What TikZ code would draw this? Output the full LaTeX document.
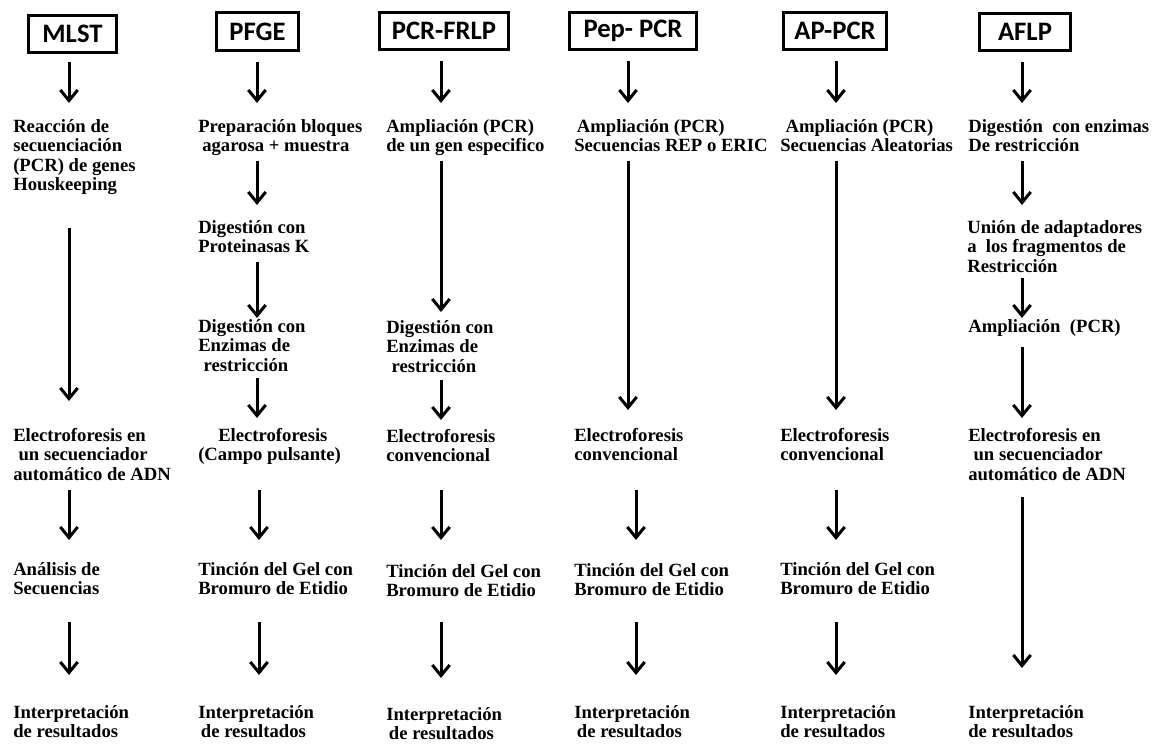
\documentclass[tikz,border=0pt]{standalone}
\usepackage{fontspec}
\setmainfont{Liberation Serif}
\newfontfamily\hdfont{Carlito}
\usetikzlibrary{arrows.meta,calc}
\begin{document}
\begin{tikzpicture}[x=0.75pt,y=-0.75pt,
  hd/.style={draw, line width=2.25pt, inner sep=0pt, minimum height=28pt,
    font=\hdfont\bfseries\fontsize{20}{24}\selectfont},
  txt/.style={anchor=north west, inner sep=0pt, align=left,
    font=\bfseries\fontsize{14}{14.6}\selectfont},
  arr/.style={line width=2.25pt, -{Straight Barb[length=8pt,width=13pt]}}]
\useasboundingbox (0,0) rectangle (1156,744);
% column coordinates
\coordinate (x1) at (69,0);
\coordinate (x2) at (257,0);
\coordinate (x2b) at (259,0);
\coordinate (x3) at (441,0);
\coordinate (x4) at (628,0);
\coordinate (x4b) at (636,0);
\coordinate (x5) at (836,0);
\coordinate (x6) at (1022,0);
% headers
\node[hd, minimum width=66pt] (h1) at (72.5,34) {MLST};
\node[hd, minimum width=62pt] (h2) at (257.5,31.5) {PFGE};
\node[hd, minimum width=97pt] (h3) at (444,31) {PCR-FRLP};
\node[hd, minimum width=95pt] (h4) at (633,31) {Pep- PCR};
\node[hd, minimum width=77pt] (h5) at (835,31) {AP-PCR};
\node[hd, minimum width=68pt] (h6) at (1025,32) {AFLP};
% MLST
\node[txt] (m1) at (13,119) {Reacción de\\secuenciación\\(PCR) de genes\\Houskeeping};
\node[txt] (m2) at (13,428) {Electroforesis en\\\hspace*{4pt}un secuenciador\\automático de ADN};
\node[txt] (m3) at (13,562) {Análisis de\\Secuencias};
\node[txt] (m4) at (13,705) {Interpretación\\de resultados};
% PFGE
\node[txt] (p1) at (198,119) {Preparación bloques\\\hspace*{3pt}agarosa + muestra};
\node[txt] (p2) at (198,220) {Digestión con\\Proteinasas K};
\node[txt] (p3) at (198,319) {Digestión con\\Enzimas de\\\hspace*{4pt}restricción};
\node[txt] (p4) at (198,428) {\hspace*{15pt}Electroforesis\\(Campo pulsante)};
\node[txt] (p5) at (198,562) {Tinción del Gel con\\Bromuro de Etidio};
\node[txt] (p6) at (198,705) {Interpretación\\\hspace*{2pt}de resultados};
% PCR-FRLP
\node[txt] (r1) at (386,119) {Ampliación (PCR)\\de un gen especifico};
\node[txt] (r2) at (386,320) {Digestión con\\Enzimas de\\\hspace*{4pt}restricción};
\node[txt] (r3) at (386,429) {Electroforesis\\convencional};
\node[txt] (r4) at (386,564) {Tinción del Gel con\\Bromuro de Etidio};
\node[txt] (r5) at (386,707) {Interpretación\\\hspace*{2pt}de resultados};
% Pep- PCR
\node[txt] (s1) at (574,119) {\hspace*{2pt}Ampliación (PCR)\\Secuencias REP o ERIC};
\node[txt] (s2) at (574,428) {Electroforesis\\convencional};
\node[txt] (s3) at (574,563) {Tinción del Gel con\\Bromuro de Etidio};
\node[txt] (s4) at (574,705) {Interpretación\\\hspace*{2pt}de resultados};
% AP-PCR
\node[txt] (a1) at (780,119) {\hspace*{4pt}Ampliación (PCR)\\Secuencias Aleatorias};
\node[txt] (a2) at (780,428) {Electroforesis\\convencional};
\node[txt] (a3) at (780,562) {Tinción del Gel con\\Bromuro de Etidio};
\node[txt] (a4) at (780,705) {Interpretación\\de resultados};
% AFLP
\node[txt] (f1) at (968,119) {Digestión\ \ con enzimas\\De restricción};
\node[txt] (f2) at (967,220) {Unión de adaptadores\\a\ \ los fragmentos de\\Restricción};
\node[txt] (f3) at (968,319) {Ampliación\ \ (PCR)};
\node[txt] (f4) at (968,428) {Electroforesis en\\\hspace*{4pt}un secuenciador\\automático de ADN};
\node[txt] (f5) at (968,705) {Interpretación\\de resultados};
% arrows MLST
\draw[arr] ($(h1.south -| x1)+(0,8)$) -- ($(m1.north -| x1)+(0,-16)$);
\draw[arr] ($(m1.north -| x1)+(0,109)$) -- ($(m2.north -| x1)+(0,-27)$);
\draw[arr] ($(m2.north -| x1)+(0,62)$) -- ($(m3.north -| x1)+(0,-22)$);
\draw[arr] ($(m3.north -| x1)+(0,60)$) -- ($(m4.north -| x1)+(0,-30)$);
% arrows PFGE
\draw[arr] ($(h2.south -| x2)+(0,10)$) -- ($(p1.north -| x2)+(0,-16)$);
\draw[arr] ($(p1.north -| x2)+(0,42)$) -- ($(p2.north -| x2)+(0,-15)$);
\draw[arr] ($(p2.north -| x2)+(0,42)$) -- ($(p3.north -| x2)+(0,-1)$);
\draw[arr] ($(p3.north -| x2)+(0,59)$) -- ($(p4.north -| x2)+(0,-10)$);
\draw[arr] ($(p4.north -| x2b)+(0,62)$) -- ($(p5.north -| x2b)+(0,-22)$);
\draw[arr] ($(p5.north -| x2b)+(0,60)$) -- ($(p6.north -| x2b)+(0,-30)$);
% arrows PCR-FRLP
\draw[arr] ($(h3.south -| x3)+(0,10)$) -- ($(r1.north -| x3)+(0,-16)$);
\draw[arr] ($(r1.north -| x3)+(0,42)$) -- ($(r2.north -| x3)+(0,-8)$);
\draw[arr] ($(r2.north -| x3)+(0,60)$) -- ($(r3.north -| x3)+(0,-9)$);
\draw[arr] ($(r3.north -| x3)+(0,61)$) -- ($(r4.north -| x3)+(0,-24)$);
\draw[arr] ($(r4.north -| x3)+(0,58)$) -- ($(r5.north -| x3)+(0,-29)$);
% arrows Pep- PCR
\draw[arr] ($(h4.south -| x4)+(0,10)$) -- ($(s1.north -| x4)+(0,-16)$);
\draw[arr] ($(s1.north -| x4)+(0,42)$) -- ($(s2.north -| x4)+(0,-18)$);
\draw[arr] ($(s2.north -| x4b)+(0,62)$) -- ($(s3.north -| x4b)+(0,-23)$);
\draw[arr] ($(s3.north -| x4b)+(0,59)$) -- ($(s4.north -| x4b)+(0,-30)$);
% arrows AP-PCR
\draw[arr] ($(h5.south -| x5)+(0,10)$) -- ($(a1.north -| x5)+(0,-16)$);
\draw[arr] ($(a1.north -| x5)+(0,42)$) -- ($(a2.north -| x5)+(0,-18)$);
\draw[arr] ($(a2.north -| x5)+(0,62)$) -- ($(a3.north -| x5)+(0,-22)$);
\draw[arr] ($(a3.north -| x5)+(0,60)$) -- ($(a4.north -| x5)+(0,-30)$);
% arrows AFLP
\draw[arr] ($(h6.south -| x6)+(0,10)$) -- ($(f1.north -| x6)+(0,-16)$);
\draw[arr] ($(f1.north -| x6)+(0,42)$) -- ($(f2.north -| x6)+(0,-15)$);
\draw[arr] ($(f2.north -| x6)+(0,58)$) -- ($(f3.north -| x6)+(0,-1)$);
\draw[arr] ($(f3.north -| x6)+(0,28)$) -- ($(f4.north -| x6)+(0,-10)$);
\draw[arr] ($(f4.north -| x6)+(0,69)$) -- ($(f5.north -| x6)+(0,-37)$);
\end{tikzpicture}
\end{document}
